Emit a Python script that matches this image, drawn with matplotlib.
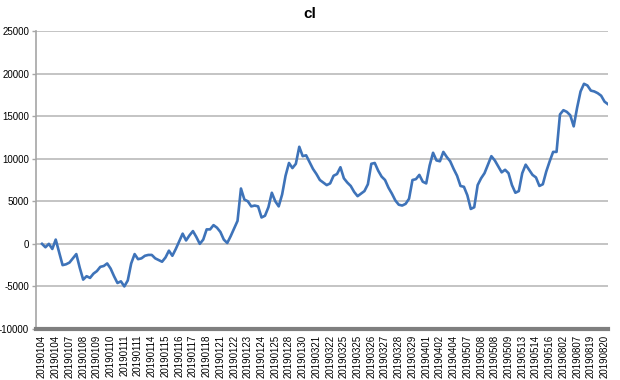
import matplotlib
matplotlib.use("Agg")
import matplotlib.pyplot as plt

title = "cl"

tick_labels = [
    "20190104", "20190104", "20190107", "20190108", "20190109", "20190110",
    "20190111", "20190111", "20190114", "20190115", "20190116", "20190117",
    "20190118", "20190121", "20190122", "20190123", "20190124", "20190125",
    "20190128", "20190130", "20190321", "20190322", "20190325", "20190325",
    "20190326", "20190327", "20190328", "20190329", "20190401", "20190402",
    "20190404", "20190507", "20190508", "20190508", "20190509", "20190513",
    "20190514", "20190516", "20190802", "20190807", "20190819", "20190820",
]

values = [
    0, -400, 0, -600, 500, -1000, -2500, -2400, -2200, -1700,
    -1200, -2800, -4200, -3800, -4000, -3500, -3200, -2700, -2600, -2300,
    -2900, -3800, -4600, -4400, -5000, -4300, -2300, -1200, -1800, -1700,
    -1400, -1300, -1300, -1700, -1900, -2100, -1600, -800, -1400, -600,
    300, 1200, 400, 1000, 1500, 800, 0, 500, 1700, 1700,
    2200, 1900, 1400, 500, 100, 900, 1800, 2700, 6500, 5200,
    5000, 4400, 4500, 4400, 3100, 3300, 4300, 6000, 5000, 4400,
    5800, 8000, 9500, 8900, 9400, 11400, 10300, 10400, 9600, 8800,
    8200, 7500, 7200, 6900, 7100, 8000, 8200, 9000, 7700, 7200,
    6800, 6100, 5600, 5900, 6200, 7000, 9400, 9500, 8600, 7900,
    7500, 6600, 5900, 5100, 4600, 4500, 4700, 5300, 7500, 7600,
    8100, 7300, 7100, 9200, 10700, 9800, 9700, 10800, 10200, 9700,
    8800, 8000, 6800, 6700, 5700, 4100, 4300, 6900, 7700, 8300,
    9300, 10300, 9800, 9100, 8400, 8700, 8300, 6900, 6000, 6200,
    8300, 9300, 8700, 8100, 7800, 6800, 7000, 8500, 9700, 10800,
    10800, 15200, 15700, 15500, 15100, 13800, 16000, 17900, 18800, 18600,
    18000, 17900, 17700, 17400, 16700, 16400,
]

label_step = 4
y_ticks = [25000, 20000, 15000, 10000, 5000, 0, -5000, -10000]

plt.rcParams["font.family"] = ["Liberation Sans", "DejaVu Sans"]

fig = plt.figure(figsize=(6.2, 3.8), dpi=100)
ax = fig.add_axes([36 / 620, 1 - 329 / 380, (608 - 36) / 620, (329 - 31) / 380])

xs = list(range(len(values)))
ax.plot(xs, values, color="#3E73B9", linewidth=1.9, solid_joinstyle="round")

ax.set_ylim(-10000, 25000)
ax.set_yticks(y_ticks)
ax.set_yticklabels([str(v) for v in y_ticks], fontsize=7)
ax.yaxis.grid(True, color="#BFBFBF", linewidth=1.3)
ax.set_axisbelow(True)

tick_pos = [i * label_step for i in range(len(tick_labels))]
ax.set_xticks(tick_pos)
ax.set_xticklabels(tick_labels, rotation=90, fontsize=7)
ax.set_xlim(-1.75, 165)

ax.tick_params(axis="y", length=3, color="#A6A6A6", width=1, pad=2)
ax.tick_params(axis="x", length=0, pad=4)

for s in ["top", "right"]:
    ax.spines[s].set_visible(False)
ax.spines["left"].set_color("#A6A6A6")
ax.spines["left"].set_linewidth(1.2)
ax.spines["bottom"].set_color("#7F7F7F")
ax.spines["bottom"].set_linewidth(3)

fig.text(0.5, 1 - 14 / 380, title, ha="center", va="center",
         fontsize=11, fontweight="bold")

fig.savefig("out.png", dpi=100)
